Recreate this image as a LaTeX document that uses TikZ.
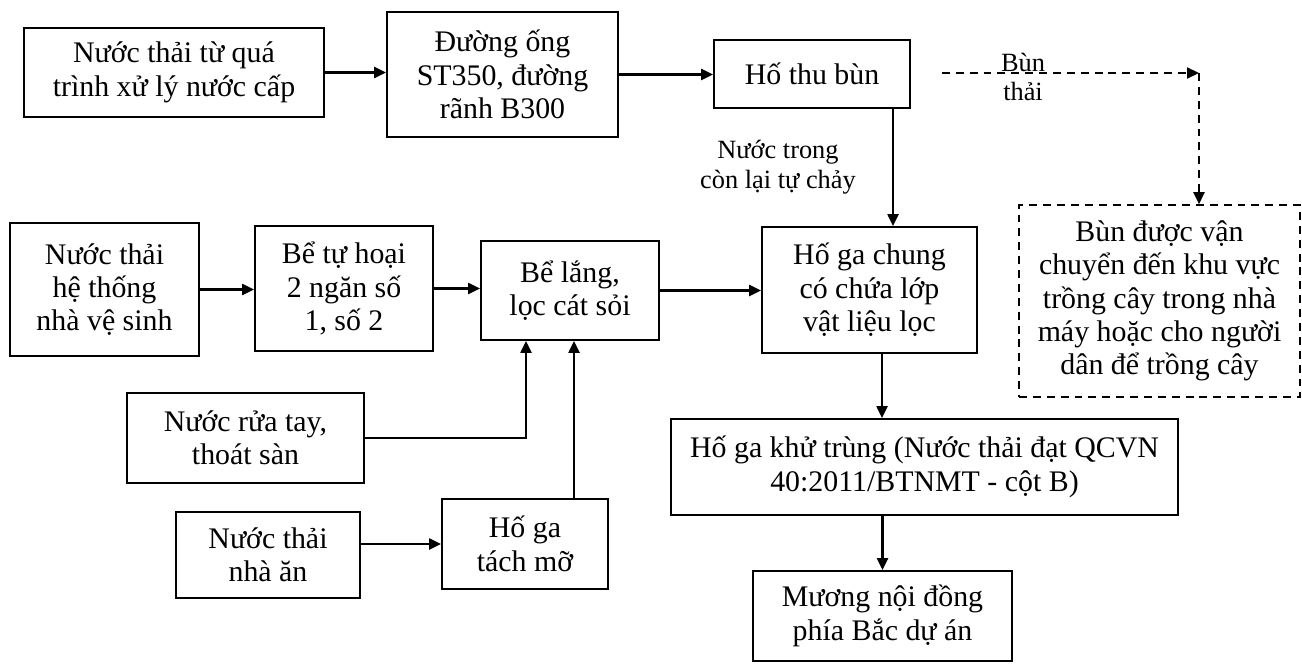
\documentclass[tikz,border=0pt]{standalone}
\usepackage{fontspec}
\setmainfont{Liberation Serif}
\usepackage{tikz}
\usetikzlibrary{positioning,arrows.meta,calc}

\begin{document}
\begin{tikzpicture}[
  box/.style={draw, line width=1pt, align=center, inner sep=0pt,
              font=\fontsize{17pt}{19pt}\selectfont},
  dbox/.style={box, dash pattern=on 4.5pt off 3.4pt, line width=0.9pt},
  arr/.style={-{Triangle[length=2.4mm, width=2.2mm]}, line width=1.2pt},
  darr/.style={arr, dash pattern=on 4.5pt off 3.4pt},
  lab/.style={font=\fontsize{15pt}{17pt}\selectfont, align=center, inner sep=0pt},
]
\useasboundingbox (0,0) rectangle (26.04,-13.28);

% ====== top row ======
\node[box, minimum width=6.0cm, minimum height=1.78cm] (src1) at (3.48,-1.45)
  {Nước thải từ quá\\trình xử lý nước cấp};
\node[box, minimum width=4.62cm, minimum height=2.5cm] (pipe) at (10.05,-1.49)
  {Đường ống\\ST350, đường\\rãnh B300};
\node[box, minimum width=3.92cm, minimum height=1.36cm] (thu) at (16.24,-1.48)
  {Hố thu bùn};
\draw[arr] (src1.east) -- (src1.east -| pipe.west);
\draw[arr] (pipe.east) -- (pipe.east -| thu.west);

% sludge branch
\node[dbox, minimum width=5.62cm, minimum height=3.84cm] (bun) at (23.19,-6.02)
  {Bùn được vận\\chuyển đến khu vực\\trồng cây trong nhà\\máy hoặc cho người\\dân để trồng cây};
\coordinate (bend) at (23.98,-1.46);
\draw[darr] ([xshift=6.2mm]thu.east |- bend) -- (bend);
\draw[darr] (bend) -- (bend |- bun.north);
\node[lab] (lbun) at (20.46,-1.54) {Bùn\\thải};

% ====== middle row ======
\node[box, minimum width=3.78cm, minimum height=2.66cm] (vs) at (2.09,-5.79)
  {Nước thải\\hệ thống\\nhà vệ sinh};
\node[box, minimum width=3.56cm, minimum height=2.5cm] (tuhoai) at (6.88,-5.77)
  {Bể tự hoại\\2 ngăn số\\1, số 2};
\node[box, minimum width=3.56cm, minimum height=1.98cm] (lang) at (11.4,-5.81)
  {Bể lắng,\\lọc cát sỏi};
\node[box, minimum width=4.3cm, minimum height=2.52cm] (chung) at (17.39,-5.8)
  {Hố ga chung\\có chứa lớp\\vật liệu lọc};
\draw[arr] (vs.east) -- (vs.east -| tuhoai.west);
\draw[arr] (tuhoai.east) -- (tuhoai.east -| lang.west);
\draw[arr] (lang.east) -- (lang.east -| chung.west);
\draw[arr] ([xshift=16.2mm]thu.south) -- ([xshift=16.2mm]thu.south |- chung.north);
\node[lab] (ltrong) at (15.56,-3.34) {Nước trong\\còn lại tự chảy};

% ====== lower part ======
\node[box, minimum width=4.74cm, minimum height=1.8cm] (ruatay) at (4.91,-8.76)
  {Nước rửa tay,\\thoát sàn};
\node[box, minimum width=3.68cm, minimum height=1.72cm] (nhaan) at (5.36,-11.1)
  {Nước thải\\nhà ăn};
\node[box, minimum width=3.32cm, minimum height=1.8cm] (tachmo) at (10.5,-10.88)
  {Hố ga\\tách mỡ};
\draw[arr] (ruatay.east) -| ([xshift=-8.8mm]lang.south);
\draw[arr] (tachmo.west -| nhaan.east) -- (tachmo.west);
\draw[arr] ([xshift=9.8mm]tachmo.north) -- ([xshift=9.8mm]tachmo.north |- lang.south);

\node[box, minimum width=10.14cm, minimum height=1.92cm] (khutrung) at (18.49,-9.34)
  {Hố ga khử trùng (Nước thải đạt QCVN\\40:2011/BTNMT - cột B)};
\node[box, minimum width=5.18cm, minimum height=1.8cm] (muong) at (17.65,-12.32)
  {Mương nội đồng\\phía Bắc dự án};
\draw[arr] ([xshift=2.5mm]chung.south) -- ([xshift=2.5mm]chung.south |- khutrung.north);
\draw[arr] (muong.north |- khutrung.south) -- (muong.north);

\end{tikzpicture}
\end{document}
